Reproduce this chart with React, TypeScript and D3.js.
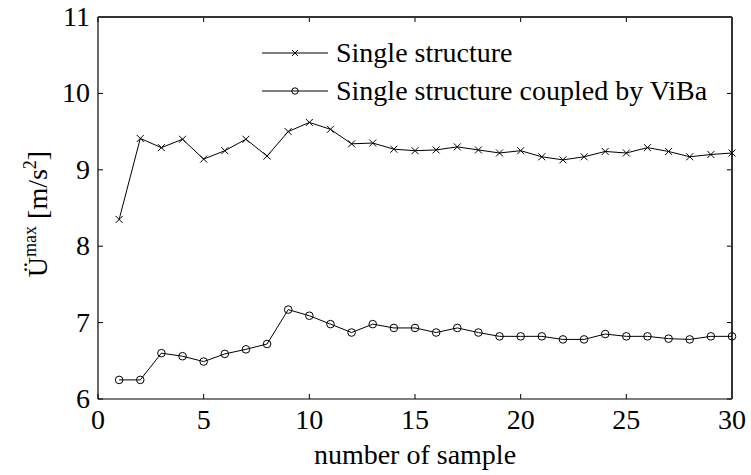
import React from "react";
import * as d3 from "d3";

// Sample index 1..30
const samples: number[] = d3.range(1, 31);

// Peak acceleration of the single structure [m/s^2]
const singleStructure: number[] = [
  8.35, 9.41, 9.29, 9.4, 9.14, 9.25, 9.4, 9.18, 9.5, 9.62,
  9.53, 9.34, 9.35, 9.27, 9.25, 9.26, 9.3, 9.26, 9.22, 9.25,
  9.17, 9.13, 9.17, 9.24, 9.22, 9.29, 9.24, 9.17, 9.2, 9.22,
];

// Peak acceleration of the structure coupled by ViBa [m/s^2]
const coupledViBa: number[] = [
  6.25, 6.25, 6.6, 6.56, 6.49, 6.59, 6.65, 6.72, 7.17, 7.09,
  6.98, 6.87, 6.98, 6.93, 6.93, 6.87, 6.93, 6.87, 6.82, 6.82,
  6.82, 6.78, 6.78, 6.85, 6.82, 6.82, 6.79, 6.78, 6.82, 6.82,
];

const xTicks: number[] = [0, 5, 10, 15, 20, 25, 30];
const yTicks: number[] = [6, 7, 8, 9, 10, 11];
const legendLabels: string[] = ["Single structure", "Single structure coupled by ViBa"];

const W = 751;
const H = 475;
const left = 98;
const right = 732;
const top = 17;
const bottom = 399;

export default function App() {
  const x = d3.scaleLinear().domain([0, 30]).range([left, right]);
  const y = d3.scaleLinear().domain([6, 11]).range([bottom, top]);
  const line = d3
    .line<number>()
    .x((_, i) => x(samples[i]))
    .y((v) => y(v));

  const cross = (cx: number, cy: number, key: string | number, s = 3.5) => (
    <path
      key={key}
      d={`M${cx - s},${cy - s}L${cx + s},${cy + s}M${cx - s},${cy + s}L${cx + s},${cy - s}`}
      stroke="#000"
      strokeWidth={1}
      fill="none"
    />
  );
  const circle = (cx: number, cy: number, key: string | number, r = 3.8) => (
    <circle key={key} cx={cx} cy={cy} r={r} fill="none" stroke="#000" strokeWidth={1} />
  );

  const tickLen = 5;

  return (
    <div style={{ position: "absolute", left: 0, top: 0, background: "#fff" }}>
      <svg width={W} height={H}>
        {/* ticks on all four sides, pointing inward */}
        {xTicks.map((t) => (
          <g key={`xt${t}`}>
            <line x1={x(t)} x2={x(t)} y1={bottom} y2={bottom - tickLen} stroke="#000" />
            <line x1={x(t)} x2={x(t)} y1={top} y2={top + tickLen} stroke="#000" />
          </g>
        ))}
        {yTicks.map((t) => (
          <g key={`yt${t}`}>
            <line x1={left} x2={left + tickLen} y1={y(t)} y2={y(t)} stroke="#000" />
            <line x1={right} x2={right - tickLen} y1={y(t)} y2={y(t)} stroke="#000" />
          </g>
        ))}

        {/* axes box */}
        <line x1={left} x2={right} y1={bottom} y2={bottom} stroke="#000" strokeWidth={1.2} />
        <line x1={left} x2={left} y1={top} y2={bottom} stroke="#000" strokeWidth={1.2} />
        <line x1={left} x2={right} y1={top} y2={top} stroke="#333" strokeWidth={2} />
        <line x1={right} x2={right} y1={top} y2={bottom} stroke="#333" strokeWidth={2} />

        {/* series */}
        <path d={line(singleStructure) ?? ""} fill="none" stroke="#000" strokeWidth={1} />
        {singleStructure.map((v, i) => cross(x(samples[i]), y(v), `c${i}`))}
        <path d={line(coupledViBa) ?? ""} fill="none" stroke="#000" strokeWidth={1} />
        {coupledViBa.map((v, i) => circle(x(samples[i]), y(v), `o${i}`))}

        {/* legend lines and markers */}
        {legendLabels.map((label, i) => {
          const ly = 53 + i * 38;
          return (
            <g key={label}>
              <line x1={262} x2={328} y1={ly} y2={ly} stroke="#000" />
              {i === 0 ? cross(295, ly, "lc", 3) : circle(295, ly, "lo", 3.2)}
            </g>
          );
        })}

        {/* text */}
        {xTicks.map((t) => (
          <text key={`xl${t}`} x={x(t)} y={429} fontSize={28} textAnchor="middle" style={{ fontFamily: "Liberation Serif" }}>
            {String(t)}
          </text>
        ))}
        {yTicks.map((t) => (
          <text key={`yl${t}`} x={90} y={y(t) + 9} fontSize={28} textAnchor="end" style={{ fontFamily: "Liberation Serif" }}>
            {String(t)}
          </text>
        ))}
        {legendLabels.map((label, i) => (
          <text key={`ll${i}`} x={336} y={53 + i * 38 + 9} fontSize={28} style={{ fontFamily: "Liberation Serif" }}>
            {label}
          </text>
        ))}
        <text x={(left + right) / 2} y={464} fontSize={28} textAnchor="middle" style={{ fontFamily: "Liberation Serif" }}>
          number of sample
        </text>
        <text
          transform={`translate(47, 214) rotate(-90)`}
          fontSize={28}
          textAnchor="middle"
          style={{ fontFamily: "Liberation Serif" }}
        >
          <tspan>Ü</tspan>
          <tspan fontSize={18} dy={-11}>max</tspan>
          <tspan dy={11}> [m/s</tspan>
          <tspan fontSize={18} dy={-11}>2</tspan>
          <tspan dy={11}>]</tspan>
        </text>
      </svg>
    </div>
  );
}
